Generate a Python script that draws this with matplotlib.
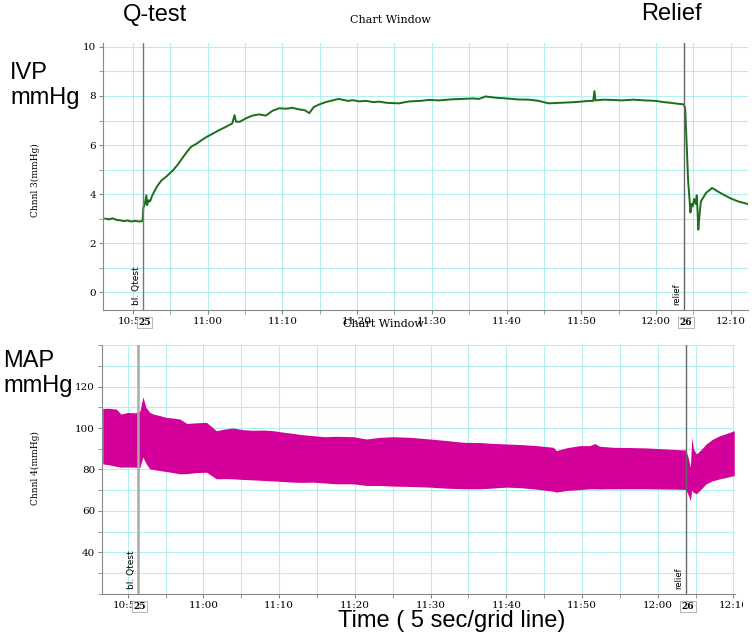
import matplotlib
matplotlib.use("Agg")
import matplotlib.pyplot as plt
from matplotlib.ticker import MultipleLocator
from matplotlib.patches import Rectangle

# minutes after 10:50
ivp_t = [-3.7, -3.2, -2.7, -2.2, -1.7, -1.2, -0.7, -0.2, 0.3, 0.8, 1.3, 1.4, 1.6, 1.8, 1.9,
         2.1, 2.3, 2.6, 3.2, 3.8, 4.5, 5.4, 6.0, 6.7, 7.3, 7.8, 8.5, 9.2, 9.8, 10.6, 11.5,
         12.5, 13.3, 13.6, 13.8, 14.3, 15.2, 16.0, 16.9, 17.8, 18.7, 19.6, 20.5, 21.3, 22.3,
         23.0, 23.6, 24.2, 24.9, 25.8, 26.7, 27.5, 28.0, 28.8, 29.4, 30.3, 31.2, 32.2, 32.9,
         34.0, 35.6, 37.0, 38.5, 39.6, 41.0, 42.5, 44.0, 45.5, 46.3, 47.2, 48.5, 50.0, 51.5,
         53.0, 54.3, 55.6, 57.0, 58.5, 59.6, 61.0, 61.6, 61.75, 61.9, 63.0, 64.0, 65.5, 67.0,
         68.5, 70.0, 71.0, 72.0, 73.0, 73.7, 73.9, 74.1, 74.3, 74.5, 74.6, 74.75, 74.9, 75.1,
         75.3, 75.45, 75.55, 75.65, 75.8, 76.0, 76.3, 76.7, 77.1, 77.5, 78.3, 79.0, 80.0,
         81.0, 82.2]
ivp = [3.0, 2.97, 3.01, 2.95, 2.93, 2.9, 2.92, 2.88, 2.91, 2.88, 2.9, 3.45, 3.6, 3.95, 3.55,
       3.75, 3.7, 3.95, 4.3, 4.55, 4.72, 4.98, 5.2, 5.5, 5.75, 5.93, 6.05, 6.2, 6.32, 6.45, 6.6,
       6.75, 6.88, 7.22, 6.95, 6.95, 7.1, 7.2, 7.25, 7.2, 7.4, 7.5, 7.48, 7.52, 7.45,
       7.42, 7.3, 7.55, 7.65, 7.75, 7.82, 7.88, 7.85, 7.8, 7.83, 7.78, 7.8, 7.75, 7.77,
       7.72, 7.7, 7.78, 7.8, 7.84, 7.82, 7.86, 7.88, 7.9, 7.88, 7.98, 7.93, 7.9, 7.86,
       7.85, 7.8, 7.7, 7.72, 7.74, 7.76, 7.8, 7.8, 8.2, 7.82, 7.85, 7.84, 7.82, 7.85,
       7.82, 7.8, 7.75, 7.72, 7.68, 7.66, 7.5, 6.0, 4.5, 3.7, 3.25, 3.6, 3.5, 3.8,
       3.6, 3.95, 3.3, 2.55, 3.1, 3.7, 3.85, 4.05, 4.15, 4.25, 4.1, 3.98, 3.82,
       3.7, 3.6]

map_t = [-3.3, -2.5, -1.5, -0.9, 0, 1.0, 1.6, 2.0, 2.4, 2.9, 3.4, 4.2, 5.1, 6.0, 6.9, 7.8,
         9.0, 10.4, 11.7, 12.8, 13.9, 15.2, 16.5, 18.0, 19.2, 20.5, 21.8, 23.0, 24.5, 26.0,
         27.5, 29.8, 31.5, 33.3, 35.0, 37.3, 39.9, 42.0, 44.3, 46.5, 48.0, 50.0, 52.0, 54.0,
         56.2, 56.6, 58.0, 59.7, 61.0, 61.7, 62.3, 64.1, 66.0, 68.5, 70.5, 72.5, 73.7, 74.0,
         74.3, 74.5, 74.7, 75.1, 75.7, 76.4, 77.2, 78.2, 79.2, 80.1]
map_hi = [109.4, 109.5, 109.1, 106.7, 107.5, 107.3, 108.0, 115.0, 110.0, 107.5, 106.7, 106.0,
          105.1, 104.8, 104.3, 102.2, 102.5, 102.7, 98.7, 99.5, 100.0, 99.2, 98.9, 99.0,
          98.7, 98.0, 97.4, 96.8, 96.3, 95.8, 96.0, 95.8, 94.7, 95.5, 95.8, 95.5, 94.7, 94.0,
          93.1, 93.0, 92.6, 92.3, 92.0, 91.5, 90.7, 89.1, 90.5, 91.5, 91.5, 92.5, 91.2, 90.7,
          90.6, 90.4, 90.0, 89.6, 89.4, 86.0, 81.0, 95.5, 90.0, 87.5, 89.5, 92.3, 94.5, 96.3,
          97.5, 98.7]
map_lo = [82.7, 82.3, 81.5, 81.1, 81.2, 81.1, 81.0, 86.0, 83.0, 80.3, 80.0, 79.5, 79.0, 78.5,
          77.9, 78.0, 78.5, 78.7, 75.5, 75.6, 75.5, 75.2, 75.0, 74.7, 74.5, 74.2, 73.9, 73.8,
          73.9, 73.5, 73.1, 73.1, 72.3, 72.3, 72.0, 71.8, 71.5, 71.0, 70.7, 70.7, 71.0, 71.5,
          71.2, 70.5, 69.5, 69.1, 69.9, 70.3, 70.7, 70.7, 70.6, 70.7, 70.7, 70.7, 70.6, 70.5,
          70.4, 68.0, 65.1, 70.0, 69.0, 68.3, 70.5, 73.1, 74.5, 75.5, 76.3, 77.1]

tick_pos = [0, 10, 20, 30, 40, 50, 60, 70, 80]
tick_lab = ["10:50", "11:00", "11:10", "11:20", "11:30", "11:40", "11:50", "12:00", "12:10"]
qtest_t = 1.35
relief_t = 73.7

grid_c = "#b2f0f0"
serif = "DejaVu Serif"

fig = plt.figure(figsize=(7.55, 6.42), dpi=100)
ax1 = fig.add_axes([0.1364, 0.517, 0.8543, 0.416])
ax2 = fig.add_axes([0.1351, 0.0748, 0.8384, 0.3878])


def style(ax, ylo, yhi, ymaj, ymin):
    ax.set_xticks(tick_pos)
    ax.set_xticklabels(tick_lab)
    ax.xaxis.set_minor_locator(MultipleLocator(5))
    ax.yaxis.set_major_locator(MultipleLocator(ymaj))
    ax.yaxis.set_minor_locator(MultipleLocator(ymin))
    ax.set_ylim(ylo, yhi)
    ax.grid(True, which="both", color=grid_c, lw=0.8)
    ax.set_axisbelow(True)
    for s in ["top", "right"]:
        ax.spines[s].set_visible(False)
    for s in ["left", "bottom"]:
        ax.spines[s].set_color("#888888")
    ax.tick_params(which="both", length=3, color="#888888", labelsize=7.5, pad=2)
    for lab in ax.get_xticklabels() + ax.get_yticklabels():
        lab.set_fontfamily(serif)


# --- IVP ---
ax1.plot(ivp_t, ivp, color="#1b6e1b", lw=1.4)
ax1.set_xlim(-4, 82.3)
style(ax1, -0.73, 10.16, 2, 1)
ax1.set_yticks([0, 2, 4, 6, 8, 10])

# --- MAP ---
ax2.fill_between(map_t, map_lo, map_hi, color="#d4009a", lw=0)
ax2.set_xlim(-3.4, 80.2)
style(ax2, 20, 140, 20, 10)
ax2.set_yticks([40, 60, 80, 100, 120])

# event markers
for ax, lw, lc in [(ax1, 1.0, "#777777"), (ax2, 1.8, "#aaaaaa")]:
    ax.axvline(qtest_t, color=lc, lw=lw)
    ax.axvline(relief_t, color="#666666", lw=1.0)
    ax.text(qtest_t - 0.3, 0.02, "bl. Qtest", rotation=90, ha="right", va="bottom",
            fontsize=6.5, transform=ax.get_xaxis_transform())
    ax.text(relief_t - 0.3, 0.02, "relief", rotation=90, ha="right", va="bottom",
            fontsize=6, transform=ax.get_xaxis_transform())
    for x, lab in [(qtest_t + 0.2, "25"), (relief_t + 0.3, "26")]:
        ax.annotate(lab, xy=(x, 0), xycoords=ax.get_xaxis_transform(), xytext=(0, -9),
                    textcoords="offset points", ha="center", va="center", fontsize=6.5,
                    fontweight="bold", fontfamily=serif,
                    bbox=dict(boxstyle="square,pad=0.15", fc="white", ec="#aaaaaa", lw=0.6))

# screenshot edge: the last bottom label is cut off on the right
fig.patches.append(Rectangle((743 / 755, 0), 12 / 755, 0.07, transform=fig.transFigure,
                             fc="white", ec="none", zorder=10))

# window titles and channel labels
fig.text(390 / 755, 1 - 20 / 642, "Chart Window", ha="center", va="center",
         fontsize=8, fontfamily=serif)
fig.text(383 / 755, 1 - 324 / 642, "Chart Window", ha="center", va="center",
         fontsize=8, fontfamily=serif)
fig.text(35 / 755, 1 - 180 / 642, "Chnnl 3(mmHg)", rotation=90, ha="center", va="center",
         fontsize=6.5, fontfamily=serif)
fig.text(35 / 755, 1 - 468 / 642, "Chnnl 4(mmHg)", rotation=90, ha="center", va="center",
         fontsize=6.5, fontfamily=serif)

# big annotations
big = dict(fontsize=17, fontfamily="Liberation Sans")
fig.text(155 / 755, 1 - 15 / 642, "Q-test", ha="center", va="center", **big)
fig.text(671 / 755, 1 - 14 / 642, "Relief", ha="center", va="center", **big)
fig.text(10 / 755, 1 - 62 / 642, "IVP\nmmHg", ha="left", va="top", linespacing=1.15, **big)
fig.text(3 / 755, 1 - 350 / 642, "MAP\nmmHg", ha="left", va="top", linespacing=1.15, **big)
fig.text(452 / 755, 1 - 621 / 642, "Time ( 5 sec/grid line)", ha="center", va="center", **big)

plt.savefig("out.png", dpi=100)
